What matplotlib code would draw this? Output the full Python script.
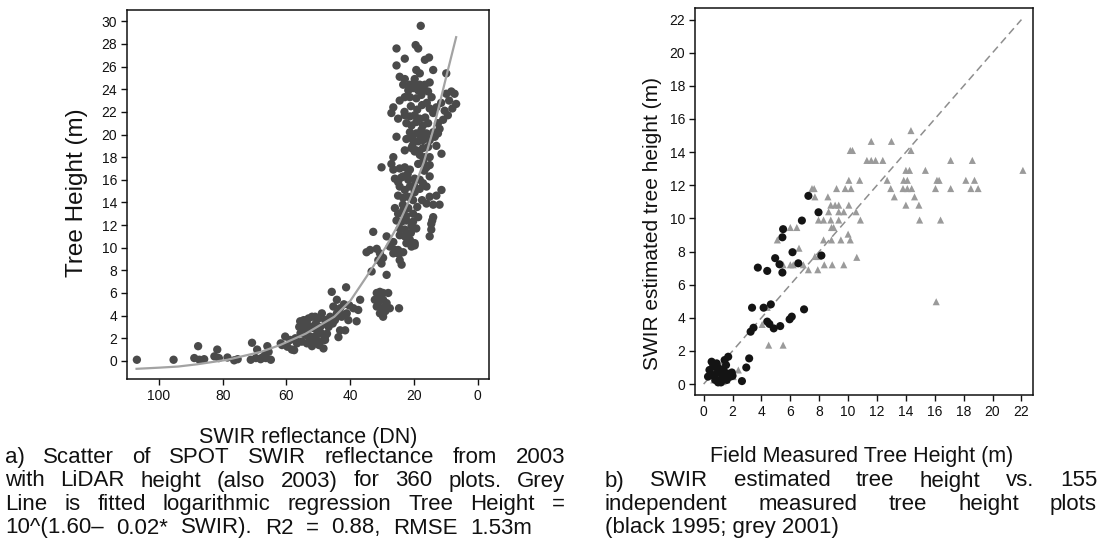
import matplotlib
matplotlib.use("Agg")
import matplotlib.pyplot as plt

plt.rcParams["font.family"] = ["Liberation Sans", "DejaVu Sans"]

# ---- panel a: SWIR reflectance vs LiDAR tree height (2003, 360 plots) ----
swir_dn = [
    106.9, 95.4, 87.7, 88.9, 87.3, 85.8, 81.7, 82.6, 81.2, 78.5, 76.4, 75.3,
    70.8, 71.2, 69.6, 68.1, 69.2, 66.5, 66.0, 64.9, 66.6, 65.6, 67.6,
    61.8, 60.4, 61.4, 59.7, 58.3, 57.6, 58.8, 57.2, 55.6, 56.7, 55.2, 53.6,
    52.0, 55.7, 54.6, 53.1, 52.0, 51.0, 50.0, 55.2, 53.6, 51.5, 49.4, 54.1,
    52.5, 50.5, 48.9, 47.9, 51.0, 49.4, 47.9, 48.4, 48.9, 47.9, 47.3, 46.3,
    46.8, 47.3, 54.5, 53.0, 50.8, 52.8, 50.0, 56.0, 49.8, 51.5,
    45.8, 45.3, 44.2, 43.2, 42.1, 43.7, 43.2, 41.6, 44.2, 42.7, 41.1,
    40.6, 41.3, 38.0, 39.0, 37.5, 36.9, 44.8, 42.0, 40.3, 45.5,
    31.7, 30.7, 29.7, 28.1, 32.3, 31.2, 29.7, 28.6, 31.7,
    30.2, 29.1, 27.6, 30.7, 29.7, 24.7, 28.6, 30.5, 29.0,
    32.8, 34.9, 33.8, 31.7, 30.7, 33.3, 31.2, 30.2,
    29.7, 28.6, 26.5, 27.6, 26.5, 25.0, 22.4, 19.8,
    17.9, 25.5, 19.5, 18.7, 22.9, 16.6, 15.3, 25.5, 14.0, 9.9,
    24.5, 22.9, 23.4, 19.3, 18.2, 19.8, 21.3, 19.8, 18.2, 16.6,
    15.1, 21.8, 20.3, 18.7, 17.2, 15.6, 21.3, 19.3, 17.7, 24.5,
    22.9, 9.9, 8.3, 7.3, 6.8, 26.5, 27.1, 25.0, 15.1, 14.0,
    13.0, 10.4, 9.4, 10.9, 22.9, 21.3, 19.8, 18.2, 22.4, 20.8,
    19.3, 17.2, 15.6, 21.3, 19.3, 17.7, 16.1, 14.0, 12.0, 25.5,
    22.4, 20.3, 18.7, 17.2, 15.1, 13.5, 20.8, 19.3, 17.2, 15.6,
    19.8, 11.4, 26.5, 18.2, 16.6, 15.1, 30.2, 18.7, 17.2, 16.1,
    15.1, 26.5, 24.5, 22.9, 21.3, 26.0, 25.0, 23.4, 21.8, 19.8,
    18.2, 17.2, 15.1, 24.5, 22.9, 21.3, 19.8, 18.2, 16.1, 11.4,
    25.0, 23.4, 21.8, 20.3, 15.1, 13.0, 16.1, 14.0, 12.0, 26.0,
    25.0, 23.4, 21.8, 20.3, 25.5, 23.9, 22.4, 20.3, 18.7, 14.0,
    14.6, 24.5, 22.9, 20.8, 19.3, 14.6, 15.1, 24.5, 22.9, 21.3,
    19.8, 20.8, 26.0, 25.0, 23.4, 24.5, 23.9,
    21.0, 19.0, 17.5, 23.0, 20.5, 18.0, 16.5, 22.0, 20.0, 23.5, 22.5, 21.0,
    24.0, 19.0, 17.5, 16.8, 16.0, 14.5, 12.5, 13.0, 11.5, 9.0, 8.0,
    20.8, 16.1, 12.5, 27.1, 22.9, 14.3, 26.0, 24.5,
]
lidar_height = [
    0.1, 0.1, 1.3, 0.25, 0.1, 0.15, 1.0, 0.4, 0.25, 0.3, 0.05, 0.15,
    1.6, 0.1, 0.25, 0.15, 1.0, 0.25, 1.3, 0.1, 0.6, 0.8, 0.3,
    1.55, 2.15, 1.4, 1.25, 1.0, 0.95, 1.85, 2.0, 2.45, 1.55, 1.7, 1.55,
    1.3, 3.5, 3.6, 3.75, 3.9, 3.9, 3.75, 2.9, 2.7, 2.9, 3.0, 2.3,
    2.15, 2.3, 2.4, 2.15, 1.85, 1.7, 1.85, 1.1, 4.2, 3.6, 3.2, 3.9,
    3.0, 2.4, 3.2, 3.1, 3.3, 1.9, 2.6, 3.0, 1.4, 1.6,
    6.1, 4.8, 5.4, 4.65, 4.05, 2.1, 2.7, 2.7, 4.2, 3.9, 4.2,
    3.6, 6.5, 3.5, 4.65, 4.5, 5.4, 3.6, 5.0, 4.9, 3.3,
    6.0, 6.1, 6.0, 6.0, 5.4, 5.2, 5.4, 5.1, 4.8,
    4.65, 4.8, 4.65, 4.2, 3.9, 4.65, 7.6, 5.6, 4.4,
    11.4, 9.6, 9.8, 9.9, 9.5, 7.9, 8.9, 8.6,
    9.1, 11.0, 10.5, 10.1, 9.5, 9.8, 10.4, 10.2,
    29.6, 27.6, 27.9, 27.6, 26.7, 26.6, 26.8, 26.1, 25.7, 25.4,
    25.1, 24.9, 24.4, 25.7, 25.4, 24.9, 24.4, 24.4, 24.4, 24.4,
    24.6, 23.9, 24.1, 23.9, 23.9, 23.8, 23.3, 23.2, 23.5, 23.0,
    23.3, 23.6, 23.8, 23.6, 22.7, 22.4, 21.9, 21.4, 22.3, 21.9,
    22.4, 22.1, 21.7, 21.3, 21.7, 21.6, 21.7, 21.4, 21.0, 20.8,
    21.1, 20.8, 21.0, 20.2, 20.1, 20.4, 20.1, 20.2, 20.5, 19.8,
    19.6, 19.5, 19.4, 19.5, 19.5, 19.8, 18.8, 18.6, 18.8, 18.9,
    18.5, 18.3, 18.0, 18.2, 18.0, 18.0, 17.1, 17.4, 17.6, 17.1,
    17.3, 16.9, 17.0, 17.1, 16.9, 16.1, 15.8, 16.3, 16.0, 16.1,
    16.0, 15.7, 16.3, 15.4, 15.1, 15.4, 14.9, 15.2, 15.4, 15.1,
    14.6, 14.4, 14.5, 14.2, 14.5, 14.6, 13.9, 13.8, 13.8, 13.5,
    13.0, 13.3, 13.5, 13.0, 12.4, 12.3, 12.4, 12.3, 12.7, 12.7,
    12.1, 11.7, 11.6, 11.9, 11.7, 11.6, 11.0, 11.1, 11.0, 10.7,
    10.4, 10.1, 9.6, 9.5, 9.6, 8.9, 8.5,
    22.5, 22.2, 22.6, 22.0, 19.0, 19.9, 21.5, 16.5, 15.5, 13.8, 12.8, 11.3,
    16.2, 13.6, 14.2, 16.8, 22.8, 23.3, 21.0, 19.0, 22.8, 23.0, 22.3,
    19.8, 19.9, 20.1, 17.4, 18.6, 12.4, 9.8, 9.5,
]

# grey regression line
fit_dn = [107, 100, 94, 88, 78.5, 68, 62, 54, 45, 40, 35, 29, 25, 21, 17, 14, 10, 6.8]
fit_height = [-0.7, -0.6, -0.5, -0.3, 0.1, 0.8, 1.4, 2.4, 3.9, 5.3, 7.4, 10.0,
              12.0, 14.5, 17.5, 20.4, 25.0, 28.6]

# ---- panel b: field measured vs SWIR estimated height ----
field_1995 = [
    7.25, 7.95, 6.8, 5.5, 5.45, 6.15, 4.95, 5.25, 6.55, 8.15, 3.75, 4.4, 5.45, 3.35,
    4.15, 4.65, 6.95, 6.1, 5.95, 4.4, 4.55, 4.85, 5.3, 3.45, 3.25, 3.15, 2.95, 2.65,
    0.55, 0.65, 0.4, 0.3, 0.9, 1.15, 1.35, 1.45, 1.7, 1.55, 1.85,
    2.0, 0.8, 1.05, 1.6, 1.3, 0.55, 0.9, 1.6, 1.95, 1.0, 1.2,
]
swir_1995 = [
    11.36, 10.37, 9.87, 9.35, 8.86, 7.96, 7.6, 7.23, 7.29, 7.76, 7.03, 6.83, 6.73, 4.61,
    4.61, 4.81, 4.51, 4.07, 3.91, 3.77, 3.63, 3.36, 3.5, 3.4, 3.16, 1.55, 1.0, 0.18,
    1.35, 1.05, 0.85, 0.45, 0.65, 0.25, 0.85, 1.45, 1.65, 1.15, 0.45,
    0.5, 0.25, 0.95, 0.25, 0.55, 0.55, 1.25, 0.65, 0.7, 0.1, 0.1,
]
field_2001 = [
    10.15, 10.3, 11.6, 13.0, 14.35, 14.35,
    11.3, 11.6, 11.9, 12.4, 17.1, 18.6,
    15.35, 14.0, 14.25, 22.1,
    10.05, 10.8, 12.7, 13.85, 14.1, 16.15, 16.3, 18.15, 18.75,
    7.5, 7.65, 9.2, 9.8, 10.2, 12.95, 13.8, 14.1, 14.4, 16.05, 17.1, 18.5, 19.0,
    7.7, 8.6, 13.2, 14.6,
    8.8, 9.1, 9.35, 10.05, 14.0, 14.9,
    8.65, 9.35, 9.7, 10.55,
    7.95, 8.3, 8.8, 9.35, 10.85, 14.95, 16.4,
    6.0, 6.45, 8.85, 9.0, 10.0,
    5.1, 8.3, 8.85, 9.5, 10.15, 6.6,
    7.95, 7.7, 10.6,
    5.5, 6.0, 6.2, 6.9, 8.35, 8.9, 9.7, 7.25, 7.9, 5.45,
    16.1, 4.4, 4.05, 4.5, 5.5, 2.4, 2.05, 1.6, 0.7, 1.35,
]
swir_2001 = [
    14.1, 14.1, 14.65, 14.65, 15.3, 14.1,
    13.5, 13.5, 13.5, 13.5, 13.5, 13.5,
    12.9, 12.9, 12.9, 12.9,
    12.3, 12.3, 12.3, 12.3, 12.3, 12.3, 12.3, 12.3, 12.3,
    11.8, 11.8, 11.8, 11.8, 11.8, 11.8, 11.8, 11.8, 11.8, 11.8, 11.8, 11.8, 11.8,
    11.3, 11.3, 11.3, 11.3,
    10.8, 10.8, 10.8, 10.8, 10.8, 10.8,
    10.4, 10.4, 10.4, 10.4,
    9.9, 9.9, 9.9, 9.9, 9.9, 9.9, 9.9,
    9.45, 9.45, 9.45, 9.45, 9.05,
    8.7, 8.7, 8.7, 8.7, 8.7, 8.2,
    7.7, 7.7, 7.65,
    7.2, 7.2, 7.2, 7.2, 7.2, 7.2, 7.2, 6.9, 6.9, 6.85,
    4.97, 4.63, 3.6, 2.35, 2.35, 0.85, 0.45, 0.25, 0.25, 0.15,
]
one_to_one = [0, 22]

caption_a = ["a) Scatter of SPOT SWIR reflectance from 2003",
             "with LiDAR height (also 2003) for 360 plots. Grey",
             "Line is fitted logarithmic regression Tree Height =",
             "10^(1.60\u2013 0.02* SWIR). R2 = 0.88, RMSE 1.53m"]
caption_b = ["b) SWIR estimated tree height vs. 155",
             "independent measured tree height plots",
             "(black 1995; grey 2001)"]

W, H = 1102, 552
fig = plt.figure(figsize=(W / 100, H / 100), dpi=100)


def axes_px(left, top, right, bottom):
    return fig.add_axes([left / W, 1 - bottom / H, (right - left) / W, (bottom - top) / H])


def style(ax):
    for sp in ax.spines.values():
        sp.set_linewidth(1.1)
        sp.set_color("#111111")
    ax.tick_params(direction="out", length=4, width=1, labelsize=10,
                   colors="#111111", pad=3)


ax1 = axes_px(127, 10, 489, 379)
ax1.scatter(swir_dn, lidar_height, s=36, color="#4a4a4a", edgecolors="none", zorder=2)
ax1.plot(fit_dn, fit_height, color="#a3a3a3", lw=1.6, zorder=3)
ax1.set_xlim(110, -3.5)
ax1.set_ylim(-1.6, 31)
ax1.set_xticks(range(0, 101, 20))
ax1.set_yticks(range(0, 31, 2))
style(ax1)

ax2 = axes_px(695, 8, 1033, 395)
ax2.plot(one_to_one, one_to_one, color="#8e8e8e", lw=1.1, dashes=(5, 3), zorder=1)
ax2.scatter(field_2001, swir_2001, marker="^", s=26, color="#9a9a9a",
            edgecolors="none", zorder=2)
ax2.scatter(field_1995, swir_1995, s=34, color="#141414", edgecolors="none", zorder=3)
ax2.set_xlim(-0.6, 22.8)
ax2.set_ylim(-0.66, 22.7)
ax2.set_xticks(range(0, 23, 2))
ax2.set_yticks(range(0, 23, 2))
style(ax2)

fig.text(77 / W, 1 - 193 / H, "Tree Height (m)", rotation=90, fontsize=17.5,
         ha="center", va="center", color="#111111")
fig.text(652 / W, 1 - 223 / H, "SWIR estimated tree height (m)", rotation=90,
         fontsize=15, ha="center", va="center", color="#111111")

CAP = 16
fig.text(308 / W, 1 - 443 / H, "SWIR reflectance (DN)", fontsize=CAP - 0.5,
         ha="center", va="baseline", color="#111111")
fig.text(862 / W, 1 - 462 / H, "Field Measured Tree Height (m)", fontsize=CAP - 0.5,
         ha="center", va="baseline", color="#111111")

renderer = fig.canvas.get_renderer()


def caption_line(text, x0, x1, base, justify=True):
    if not justify:
        fig.text(x0 / W, 1 - base / H, text, fontsize=CAP, va="baseline",
                 ha="left", color="#111111")
        return
    words = text.split(" ")
    arts = [fig.text(0, 1 - base / H, w, fontsize=CAP, va="baseline", ha="left",
                     color="#111111") for w in words]
    widths = [a.get_window_extent(renderer=renderer).width for a in arts]
    gap = (x1 - x0 - sum(widths)) / (len(words) - 1)
    x = x0
    for a, w in zip(arts, widths):
        a.set_x(x / W)
        x += w + gap


base_a = [463, 486.5, 510, 533.5]
for i, line in enumerate(caption_a):
    caption_line(line, 5, 565 if i < 3 else 532, base_a[i])

base_b = [486.5, 510, 533.5]
for i, line in enumerate(caption_b):
    caption_line(line, 605, 1097, base_b[i], justify=i < 2)

fig.savefig("out.png", dpi=100, facecolor="white")
